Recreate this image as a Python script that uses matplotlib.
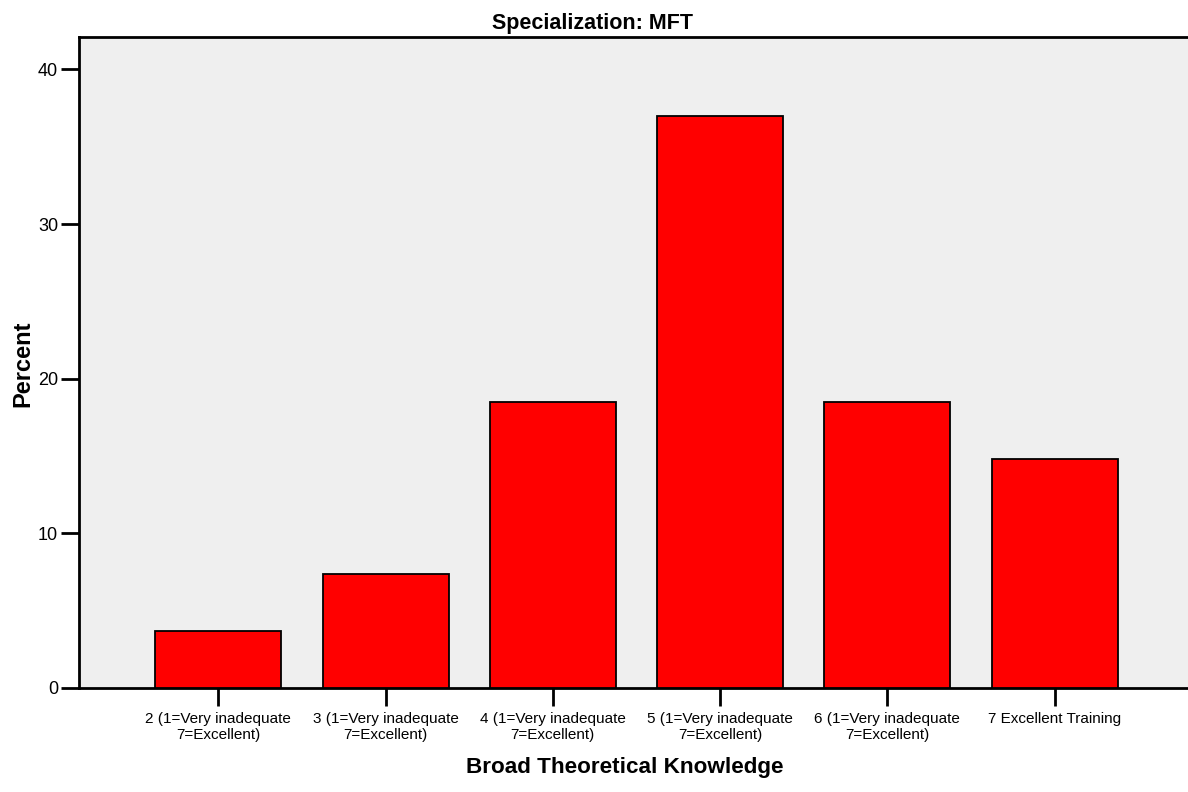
import matplotlib
matplotlib.use("Agg")
import matplotlib.pyplot as plt

plt.rcParams['font.family'] = ['Liberation Sans', 'DejaVu Sans']

categories = ["2 (1=Very inadequate\n7=Excellent)", "3 (1=Very inadequate\n7=Excellent)",
              "4 (1=Very inadequate\n7=Excellent)", "5 (1=Very inadequate\n7=Excellent)",
              "6 (1=Very inadequate\n7=Excellent)", "7 Excellent Training"]
percent = [3.7, 7.4, 18.5, 37.0, 18.5, 14.8]
yticks = [0, 10, 20, 30, 40]

W, H = 1188, 792
fig = plt.figure(figsize=(W/100, H/100), dpi=100)
left, right, top, bottom = 79, 1194, 37, 688
ax = fig.add_axes([left/W, 1-bottom/H, (right-left)/W, (bottom-top)/H])
ax.set_facecolor('#EFEFEF')
x = list(range(len(categories)))
ax.bar(x, percent, width=0.753, color='#FF0000', edgecolor='black', linewidth=1.3, zorder=3)
ax.set_xlim(-0.833, len(categories)-1+0.833)
ax.set_ylim(0, 42.1)
ax.set_yticks(yticks)
ax.set_xticks(x)
ax.set_xticklabels(categories, fontsize=11, linespacing=1.2)
ax.tick_params(axis='y', length=13, width=2, labelsize=13, pad=2)
ax.tick_params(axis='x', length=13, width=2, pad=4)
for s in ax.spines.values():
    s.set_linewidth(2)
fig.text(625/W, 1-773/H, "Broad Theoretical Knowledge", ha='center', va='baseline',
         fontsize=16.2, fontweight='bold')
fig.text(23/W, 1-363.5/H, "Percent", ha='center', va='center', rotation=90,
         fontsize=17, fontweight='bold')
fig.text(592/W, 1-29/H, "Specialization: MFT", ha='center', va='baseline',
         fontsize=15.5, fontweight='bold')
fig.savefig("out.png", dpi=100)
